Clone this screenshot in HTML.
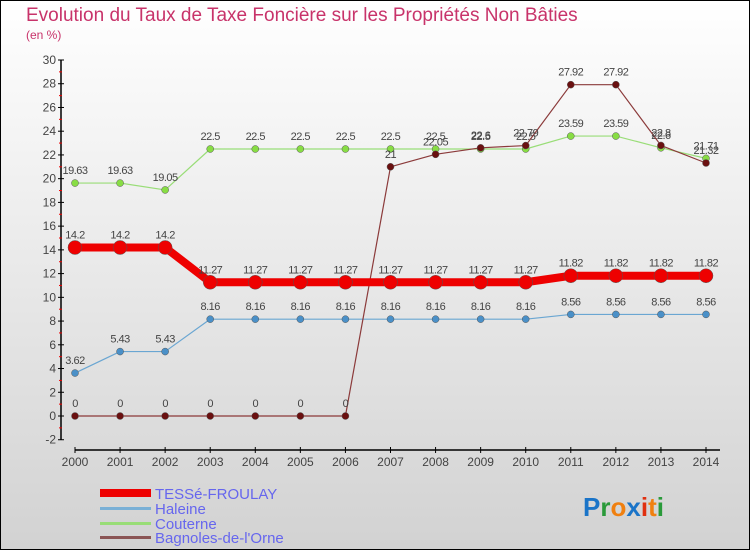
<!DOCTYPE html>
<html><head><meta charset="utf-8"><style>
html,body{margin:0;padding:0;}
body{width:750px;height:550px;overflow:hidden;font-family:"Liberation Sans",sans-serif;}
svg{display:block}
</style></head><body>
<svg id="c" width="750" height="550" xmlns="http://www.w3.org/2000/svg">
<defs><linearGradient id="bg" x1="0" y1="0" x2="0" y2="1"><stop offset="0" stop-color="#ffffff"/><stop offset="1" stop-color="#d2d2d2"/></linearGradient></defs>
<rect x="0.5" y="0.5" width="749" height="549" fill="url(#bg)" stroke="#000"/>
<text x="26" y="21" font-size="19" fill="#c8336a">Evolution du Taux de Taxe Foncière sur les Propriétés Non Bâties</text>
<text x="26" y="39" font-size="12" fill="#c8336a">(en %)</text>
<g id="axes"></g><g id="series"></g>
<g>
<rect x="100" y="489" width="51" height="8" fill="#ee0000"/>
<text x="155" y="499" font-size="15" fill="#6666ee">TESSé-FROULAY</text>
<rect x="100" y="507" width="51" height="3" fill="#7ab0d6"/>
<text x="155" y="514" font-size="15" fill="#6666ee">Haleine</text>
<rect x="100" y="522" width="51" height="3" fill="#99dd77"/>
<text x="155" y="529" font-size="15" fill="#6666ee">Couterne</text>
<rect x="100" y="536" width="51" height="3" fill="#8b5555"/>
<text x="155" y="543" font-size="15" fill="#6666ee">Bagnoles-de-l'Orne</text>
</g>
<text x="583" y="516" font-size="26" font-weight="bold"><tspan fill="#1a74c8">P</tspan><tspan fill="#2a9a3a">r</tspan><tspan fill="#f08010">o</tspan><tspan fill="#1a74c8">x</tspan><tspan fill="#e03010">i</tspan><tspan fill="#f08010">t</tspan><tspan fill="#2a9a3a">i</tspan></text>
</svg>
<script>
const years=[2000,2001,2002,2003,2004,2005,2006,2007,2008,2009,2010,2011,2012,2013,2014];
const yTicks=[-2,0,2,4,6,8,10,12,14,16,18,20,22,24,26,28,30];
const tesse=[14.2,14.2,14.2,11.27,11.27,11.27,11.27,11.27,11.27,11.27,11.27,11.82,11.82,11.82,11.82];
const haleine=[3.62,5.43,5.43,8.16,8.16,8.16,8.16,8.16,8.16,8.16,8.16,8.56,8.56,8.56,8.56];
const couterne=[19.63,19.63,19.05,22.5,22.5,22.5,22.5,22.5,22.5,22.5,22.5,23.59,23.59,22.6,21.71];
const bagnoles=[0,0,0,0,0,0,0,21,22.05,22.6,22.79,27.92,27.92,22.8,21.32];
const NS="http://www.w3.org/2000/svg";
const X=i=>75+i*(706-75)/(years.length-1);
const Y=v=>416-v*(416-60)/30;
function mk(p,tag,a){const e=document.createElementNS(NS,tag);for(const k in a)e.setAttribute(k,a[k]);p.appendChild(e);return e;}
const ax=document.getElementById('axes');
let yl=mk(ax,'line',{x1:61,y1:Y(30),x2:61,y2:Y(-2),stroke:'#000','stroke-width':1.5});


yTicks.forEach(t=>{
 mk(ax,'line',{x1:58,y1:Y(t),x2:64,y2:Y(t),stroke:'#000'});
 if(t<30) mk(ax,'line',{x1:59,y1:Y(t+1),x2:62,y2:Y(t+1),stroke:'#e00'});
 const tx=mk(ax,'text',{x:56,y:Y(t)+4,'font-size':12,fill:'#444','text-anchor':'end'});
 
 
 tx.textContent=t;
});
let xl=mk(ax,'line',{x1:X(0),y1:450,x2:720,y2:450,stroke:'#000','stroke-width':1.5});


years.forEach((y,i)=>{
 mk(ax,'line',{x1:X(i),y1:447,x2:X(i),y2:453,stroke:'#000'});
 const tx=mk(ax,'text',{x:X(i),y:466,'font-size':12,fill:'#444','text-anchor':'middle'});
 
 
 tx.textContent=y;
});
const sg=document.getElementById('series');
function series(vals,name,color,w,r,dot){
 const g=mk(sg,'g',{});
 
 
 const pl=mk(g,'polyline',{points:vals.map((v,i)=>X(i)+','+Y(v)).join(' '),fill:'none',stroke:color,'stroke-width':w,'stroke-linejoin':'round'});
 
 
 vals.forEach((v,i)=>{
  const c=mk(g,'circle',{cx:X(i),cy:Y(v),r:r,fill:dot,stroke:'#555','stroke-width':0.5});
  
  
  const t=mk(g,'text',{x:X(i),y:Y(v)-9,'font-size':11,fill:'#444','text-anchor':'middle','letter-spacing':'-0.5'});
  
  
  t.textContent=v;
 });
}
series(haleine,'haleine','#6aa6d2',1.2,3.5,'#4a90c8');
series(couterne,'couterne','#99dd77',1.2,3.5,'#88dd44');
series(bagnoles,'bagnoles','#8b3a3a',1.2,3.5,'#6a1010');
series(tesse,'tesse-froulay','#ee0000',8,7,'#ee0000');
</script>
</body></html>
